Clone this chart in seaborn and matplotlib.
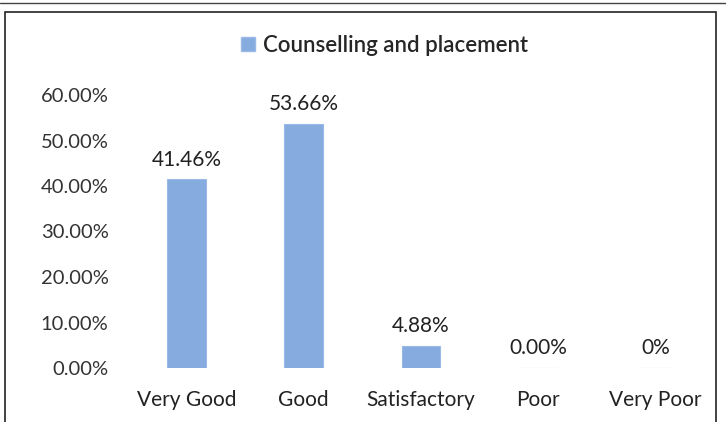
import matplotlib
matplotlib.use("Agg")
import matplotlib.pyplot as plt
import seaborn as sns
import pandas as pd
from matplotlib.patches import Rectangle

# Data
categories = ["Very Good", "Good", "Satisfactory", "Poor", "Very Poor"]
values = [41.46, 53.66, 4.88, 0.00, 0.0]
value_labels = ["41.46%", "53.66%", "4.88%", "0.00%", "0%"]
series_name = "Counselling and placement"
yticks = [0, 10, 20, 30, 40, 50, 60]

df = pd.DataFrame({"category": categories, "value": values, "series": series_name})

sns.set_style("white")
plt.rcParams["font.family"] = ["Lato", "DejaVu Sans"]

fig = plt.figure(figsize=(7.26, 4.22), dpi=100)
ax = fig.add_axes([128 / 726, 1 - 368 / 422, 586 / 726, 273 / 422])

bar_color = "#86ABDF"
sns.barplot(data=df, x="category", y="value", hue="series", palette=[bar_color],
            width=0.33, ax=ax, legend=False, saturation=1,
            edgecolor="#9BB9E6", linewidth=0.8)

ax.set_ylim(0, 60)
ax.set_xlim(-0.5, 4.5)
ax.set_yticks(yticks)
ax.set_yticklabels([f"{t:.2f}%" for t in yticks])
ax.set_xlabel("")
ax.set_ylabel("")
ax.tick_params(axis="y", length=0, labelsize=14.5, labelcolor="#333333", pad=14)
ax.tick_params(axis="x", length=0, labelsize=15, labelcolor="#222222", pad=16)
for s in ax.spines.values():
    s.set_visible(False)

# value labels above bars
for i, (v, lab) in enumerate(zip(values, value_labels)):
    ax.annotate(lab, (i, v), xytext=(0, 7), textcoords="offset points",
                ha="center", va="bottom", fontsize=15, color="#222222",
                annotation_clip=False)

# legend at the top
leg_handle = Rectangle((0, 0), 1, 1, facecolor=bar_color, edgecolor="#9BB9E6")
fig.legend([leg_handle], [series_name], loc="center", bbox_to_anchor=(0.53, 1 - 45 / 422),
           frameon=False, handlelength=0.6, handleheight=0.6, handletextpad=0.4,
           prop={"size": 16, "weight": "semibold"})

# outer frame lines as in the scanned page
fig.patches.append(Rectangle((5 / 726, -0.05), 711 / 726, 1 - 12 / 422 + 0.05,
                             transform=fig.transFigure, fill=False,
                             edgecolor="#222222", linewidth=1.2))
fig.add_artist(plt.Line2D([0, 1], [1 - 3 / 422, 1 - 3 / 422], transform=fig.transFigure,
                          color="#444444", linewidth=1.0))

fig.savefig("out.png", dpi=100)
